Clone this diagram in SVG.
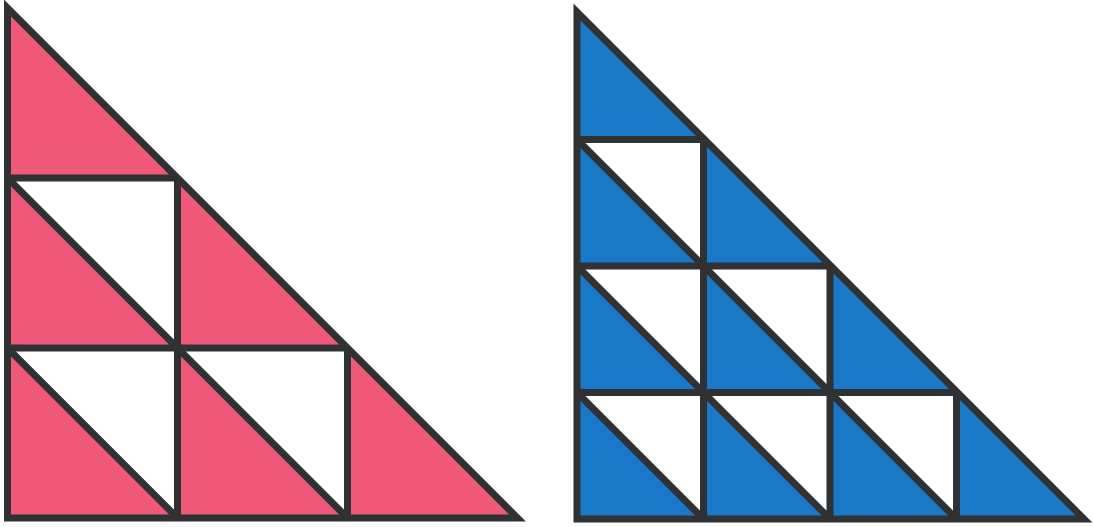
<svg xmlns="http://www.w3.org/2000/svg" width="1093" height="527" viewBox="0 0 1093 527">
<style>
.ln{stroke:#2f3133;stroke-width:7;fill:none;stroke-linejoin:miter;stroke-linecap:butt}
.w{fill:#ffffff}
.pk{fill:#f05878}
.bl{fill:#1a78c8}
</style>
<rect width="1093" height="527" fill="#ffffff"/>
<g id="left-triangle">
<polygon class="pk" points="7.5,8 7.5,518 517.5,518"/>
<polygon class="w" points="7.5,178 177.5,178 177.5,348"/>
<polygon class="w" points="7.5,348 177.5,348 177.5,518"/>
<polygon class="w" points="177.5,348 347.5,348 347.5,518"/>
<path class="ln" d="M7.5,178H177.5M7.5,348H347.5M177.5,178V518M347.5,348V518M7.5,178L177.5,348L347.5,518M7.5,348L177.5,518"/>
<polygon class="ln" points="7.5,8 7.5,518 517.5,518"/>
</g>
<g id="right-triangle">
<polygon class="bl" points="577,12 577,519 1084,519"/>
<polygon class="w" points="577,139.5 703.5,139.5 703.5,266"/>
<polygon class="w" points="577,266 703.5,266 703.5,392.5"/>
<polygon class="w" points="703.5,266 830,266 830,392.5"/>
<polygon class="w" points="577,392.5 703.5,392.5 703.5,519"/>
<polygon class="w" points="703.5,392.5 830,392.5 830,519"/>
<polygon class="w" points="830,392.5 956.5,392.5 956.5,519"/>
<path class="ln" d="M577,139.5H703.5M577,266H830M577,392.5H956.5M703.5,139.5V519M830,266V519M956.5,392.5V519M577,139.5L956.5,519M577,266L830,519M577,392.5L703.5,519"/>
<polygon class="ln" points="577,12 577,519 1084,519"/>
</g>
</svg>
